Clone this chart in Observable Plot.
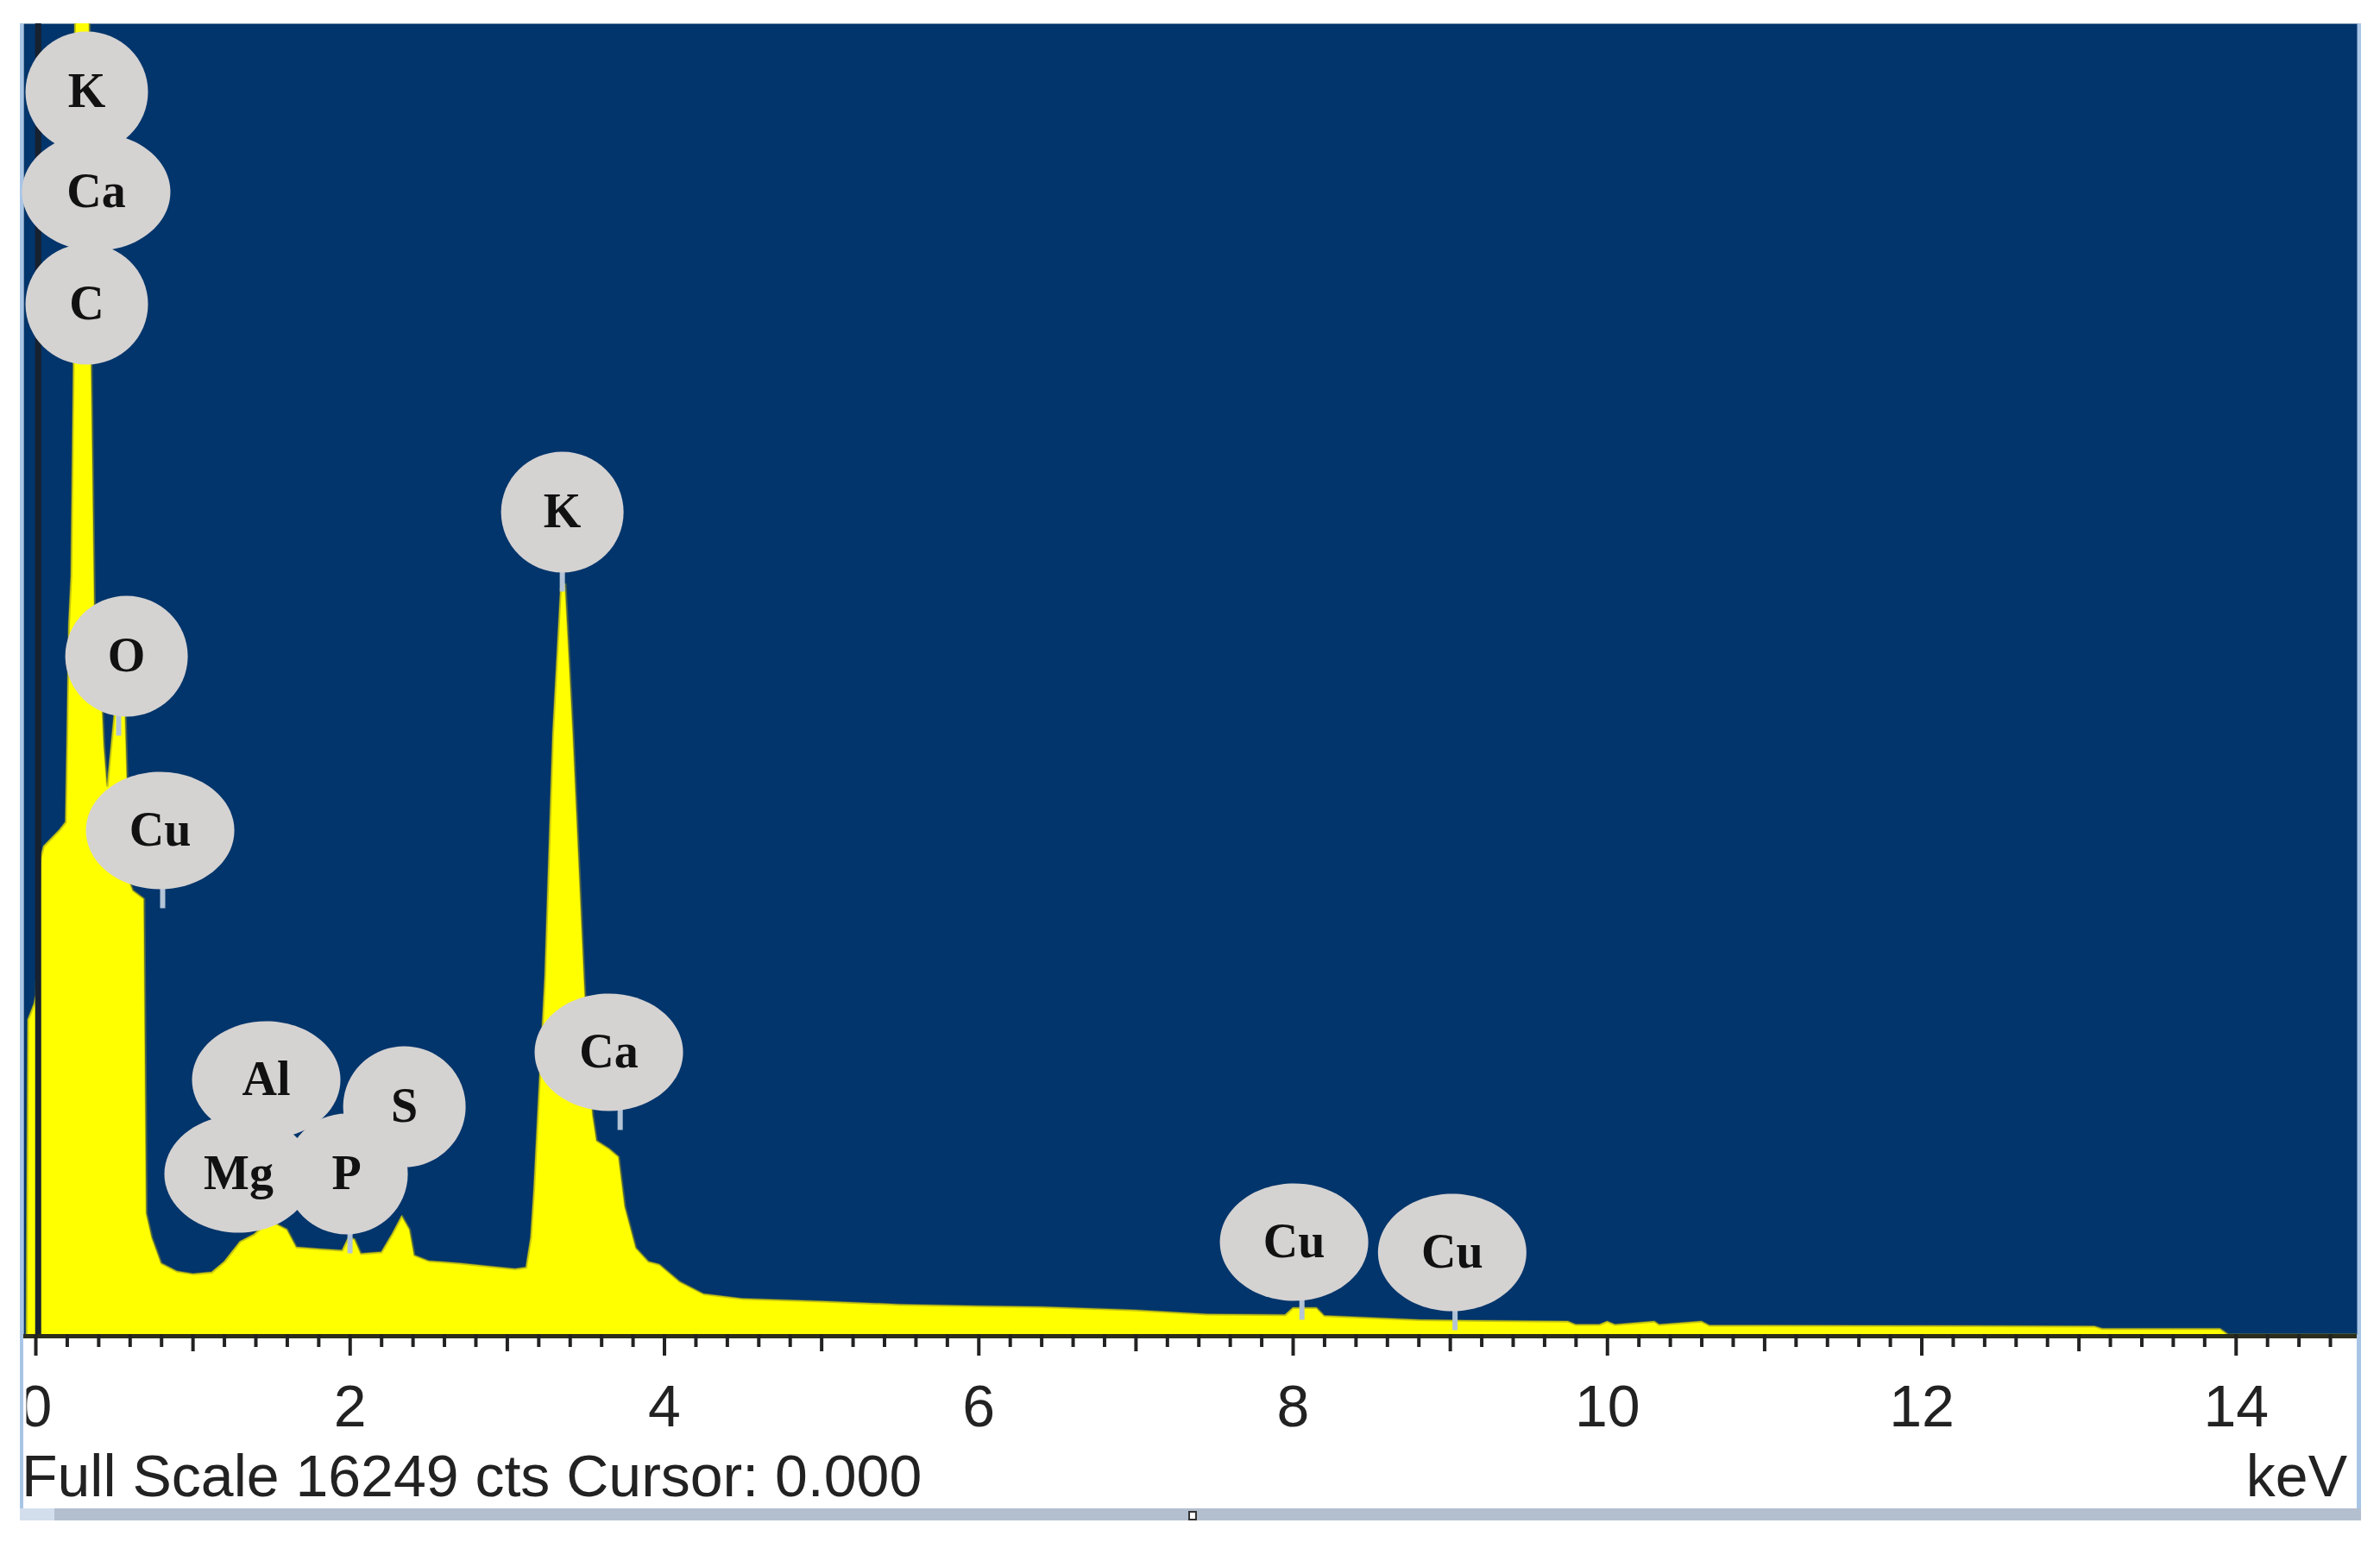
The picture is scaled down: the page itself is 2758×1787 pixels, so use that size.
<!DOCTYPE html>
<html><head><meta charset="utf-8">
<script src="https://cdn.jsdelivr.net/npm/d3@7"></script>
<script src="https://cdn.jsdelivr.net/npm/@observablehq/plot@0.6"></script>
<style>
body{margin:0;background:#fff;}
#wrap{position:relative;width:2758px;height:1787px;overflow:hidden;background:#fff;}
.deco{position:absolute;}
#chart{position:absolute;left:0;top:0;}
.cap{position:absolute;font-family:"Liberation Sans",Arial,sans-serif;font-size:68px;line-height:68px;color:#222;white-space:nowrap;}
</style></head>
<body>
<div id="wrap">
  <div class="deco" style="left:23px;top:27px;width:4px;height:1721px;background:#a8c5e6"></div>
  <div class="deco" style="left:2731px;top:27px;width:5px;height:1735px;background:#a8c5e6"></div>
  <div class="deco" style="left:23px;top:1748px;width:2713px;height:14px;background:#b3bfcf"></div>
  <div class="deco" style="left:23px;top:1748px;width:40px;height:14px;background:#d3deec"></div>
  <div class="deco" style="left:1377px;top:1751px;width:10px;height:11px;background:#fff;border:2px solid #333;box-sizing:border-box"></div>
  <div id="chart"></div>
  <div class="cap" id="fullscale" style="left:25px;top:1676px"></div>
  <div class="cap" id="unit" style="right:38px;top:1676px"></div>
</div>
<script>
// ---- data ----
const fullScale = 16249;          // cts
const cursor = "0.000";
const unitLabel = "keV";

const specKeV = [-0.06,-0.05,-0.01,0.00,0.03,0.05,0.10,0.15,0.19,0.20,0.21,0.225,0.24,0.25,0.34,0.355,0.375,0.415,0.435,0.455,0.475,0.50,0.57,0.60,0.62,0.69,0.705,0.74,0.80,0.90,1.00,1.12,1.20,1.30,1.39,1.45,1.52,1.60,1.66,1.80,1.95,1.99,2.03,2.07,2.20,2.27,2.33,2.38,2.41,2.50,2.70,2.90,3.05,3.12,3.15,3.17,3.20,3.24,3.29,3.34,3.37,3.42,3.49,3.52,3.545,3.57,3.65,3.71,3.75,3.82,3.90,3.97,4.10,4.25,4.50,5.00,5.50,6.00,6.40,7.00,7.45,7.95,8.00,8.15,8.20,8.80,9.10,9.75,9.80,9.95,10.00,10.05,10.30,10.33,10.60,10.65,13.10,13.15,13.90,13.95,14.77];
const specCts = [0,3900,4100,4200,5900,6050,6150,6250,6350,7500,8800,9400,12000,17000,17000,12000,9000,8200,7300,6800,7200,7700,7750,5600,5500,5400,1500,1200,880,780,750,770,900,1150,1240,1350,1380,1300,1080,1060,1040,1200,1180,1000,1020,1250,1470,1300,980,910,880,840,810,830,1200,1800,2950,4440,7440,9250,9300,7440,4440,3300,2720,2400,2300,2200,1580,1070,900,865,650,500,440,410,370,350,340,300,250,240,330,330,230,180,170,160,120,120,160,120,160,120,160,110,100,70,70,0,0];

const zeroPeakKeV = [0.015];

const bubbleLabel = ["K","Ca","C","O","Cu","K","Ca","Al","S","Mg","P","Cu","Cu"];
const bubbleKeV   = [0.324,0.384,0.324,0.577,0.791,3.350,3.646,1.466,2.345,1.290,1.977,8.006,9.012];
const bubbleCts   = [15404,14163,12772,8408,6247,10194,3498,3156,2824,1990,1990,1145,1016];
// energy of each marker's pointer (null where the pointer is hidden)
const markerKeV   = [null,null,null,0.527,0.807,3.350,3.718,null,null,null,1.999,8.056,9.03];

const tickLabels = [0,2,4,6,8,10,12,14];

// ---- derived tables ----
const spectrum = specKeV.map((k,i)=>({kev:k, cts:specCts[i]}));
const bubbles = bubbleLabel.map((l,i)=>({label:l, kev:bubbleKeV[i], cts:bubbleCts[i], marker:markerKeV[i]}));
const pointers = bubbles.filter(d => d.marker != null);
const allTicks = d3.range(0, 74).map(i => i/5);
const minorTicks = allTicks.filter(t => Math.abs(t - Math.round(t)) > 1e-6);
const oddTicks = allTicks.filter(t => Math.abs(t - Math.round(t)) < 1e-6 && Math.round(t) % 2 === 1);
const evenTicks = allTicks.filter(t => Math.abs(t - Math.round(t)) < 1e-6 && Math.round(t) % 2 === 0);

function ellipse(rx, ry){
  const k = 0.5523;
  return {draw(ctx){
    ctx.moveTo(rx,0);
    ctx.bezierCurveTo(rx, ry*k, rx*k, ry, 0, ry);
    ctx.bezierCurveTo(-rx*k, ry, -rx, ry*k, -rx, 0);
    ctx.bezierCurveTo(-rx, -ry*k, -rx*k, -ry, 0, -ry);
    ctx.bezierCurveTo(rx*k, -ry, rx, -ry*k, rx, 0);
    ctx.closePath();
  }};
}
function stub(ry){
  return {draw(ctx){ ctx.rect(-3, ry-6, 6, 28); }};
}
const shortB = d => d.label.length === 1;
const longB = d => d.label.length > 1;

const BLUE = "#02356b";
const YELLOW = "#ffff00";
const BUB = "#d5d2d2";

const plot = Plot.plot({
  width: 2758, height: 1787,
  marginLeft: 27, marginRight: 27, marginTop: 27, marginBottom: 241,
  x: {domain: [-0.077, 14.77]},
  y: {domain: [0, fullScale], axis: null},
  style: {background: "transparent", fontFamily: "'Liberation Sans', Arial, sans-serif", color: "#222"},
  marks: [
    Plot.frame({fill: BLUE}),
    Plot.areaY(spectrum, {x: "kev", y: "cts", fill: YELLOW, clip: true}),
    Plot.lineY(spectrum, {x: "kev", y: "cts", stroke: "#8f8f22", strokeWidth: 2.5, strokeOpacity: 0.5, clip: true}),
    Plot.ruleX(zeroPeakKeV, {stroke: "#17212f", strokeWidth: 7}),
    Plot.ruleY([0], {stroke: "#2d2d1c", strokeWidth: 5, dy: 2}),
    Plot.dot(pointers, {filter: shortB, x: "marker", y: "cts", r: 5, symbol: stub(70), fill: "#b4c4d6", stroke: "none"}),
    Plot.dot(pointers, {filter: longB, x: "marker", y: "cts", r: 5, symbol: stub(68), fill: "#b4c4d6", stroke: "none"}),
    Plot.dot(bubbles, {filter: shortB, x: "kev", y: "cts", r: 5, symbol: ellipse(71, 70), fill: BUB, stroke: "none"}),
    Plot.dot(bubbles, {filter: longB, x: "kev", y: "cts", r: 5, symbol: ellipse(86, 68), fill: BUB, stroke: "none"}),
    Plot.text(bubbles, {x: "kev", y: "cts", text: "label", fontSize: 56, fontFamily: "'Liberation Serif', 'Times New Roman', serif", fontWeight: "bold", fill: "#111"}),
    Plot.axisX({ticks: minorTicks, tickSize: 15, text: null, stroke: "#222", strokeWidth: 4}),
    Plot.axisX({ticks: oddTicks, tickSize: 20, text: null, stroke: "#222", strokeWidth: 4}),
    Plot.axisX({ticks: evenTicks, tickSize: 25, text: null, stroke: "#222", strokeWidth: 4}),
    Plot.axisX({ticks: tickLabels, tickSize: 0, tickPadding: 58, fontSize: 68, tickFormat: d => String(d), fill: "#222", label: null})
  ]
});
document.getElementById("chart").appendChild(plot);

// clip the tick labels at the panel's left edge (the "0" is cut in the reference)
const svg = d3.select(plot);
const cid = "lblclip";
svg.append("defs").append("clipPath").attr("id", cid)
  .append("rect").attr("x", 30).attr("y", 0).attr("width", 2700).attr("height", 1787);
svg.selectAll('g[aria-label="x-axis tick label"]').attr("clip-path", `url(#${cid})`);

document.getElementById("fullscale").textContent = `Full Scale ${fullScale} cts Cursor: ${cursor}`;
document.getElementById("unit").textContent = unitLabel;
</script>
</body></html>
